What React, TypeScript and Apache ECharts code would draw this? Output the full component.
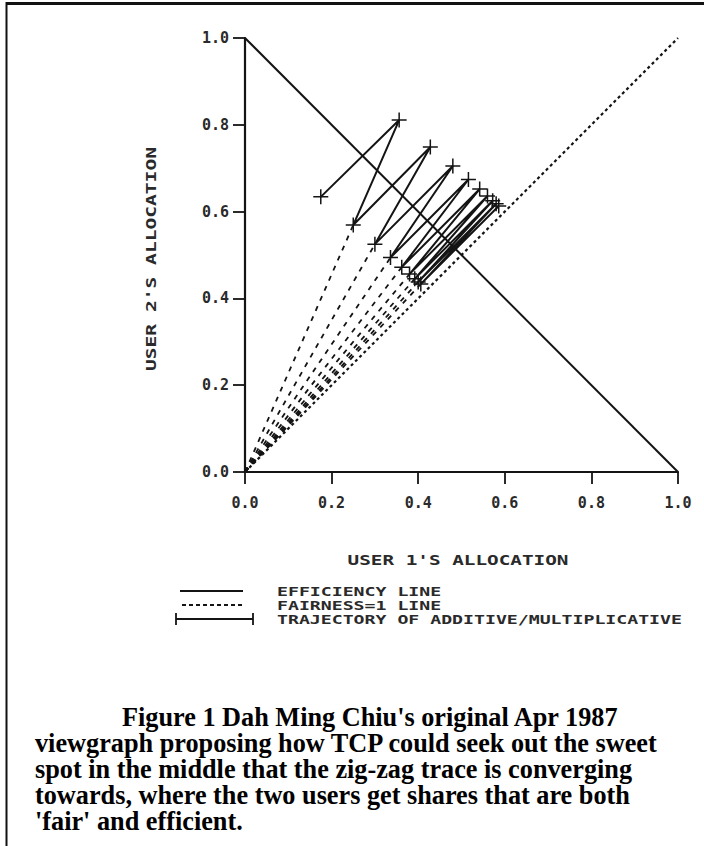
import React, { useEffect, useRef } from 'react';
import * as echarts from 'echarts';

// ---- data ----
const axisTicks = [0, 0.2, 0.4, 0.6, 0.8, 1.0];
const efficiencyX = [0, 1];
const efficiencyY = [1, 0];
const fairnessX = [0, 1];
const fairnessY = [0, 1];
// zig-zag trajectory (start, then alternating increase / decrease points)
const trajX = [0.175, 0.356, 0.250, 0.428, 0.300, 0.480, 0.336, 0.516, 0.362, 0.542, 0.380, 0.560, 0.392, 0.572, 0.400, 0.580, 0.406, 0.586];
const trajY = [0.634, 0.811, 0.569, 0.749, 0.525, 0.705, 0.494, 0.674, 0.472, 0.652, 0.456, 0.636, 0.445, 0.625, 0.438, 0.618, 0.433, 0.613];
// dashed rays toward origin, ending at each decreased point
const rayEndX = [0.250, 0.300, 0.336, 0.362, 0.380, 0.392, 0.400, 0.406];
const rayEndY = [0.569, 0.525, 0.494, 0.472, 0.456, 0.445, 0.438, 0.433];
const xAxisTitle = "USER 1'S ALLOCATION";
const yAxisTitle = "USER 2'S ALLOCATION";
const legendLabels = ['EFFICIENCY LINE', 'FAIRNESS=1 LINE', 'TRAJECTORY OF ADDITIVE/MULTIPLICATIVE'];
const captionLines = [
  "Figure 1 Dah Ming Chiu's original Apr 1987",
  'viewgraph proposing how TCP could seek out the sweet',
  'spot in the middle that the zig-zag trace is converging',
  'towards, where the two users get shares that are both',
  "'fair' and efficient.",
];

const INK = '#141414';
const TXT = '#2a2a2a';
const MONO = "'DejaVu Sans Mono', monospace";
const SERIF = "'Liberation Serif', 'Times New Roman', serif";
const PLUS = 'path://M9,0h2v9h9v2h-9v9h-2v-9h-9v-2h9z';

export default function App() {
  const ref = useRef<HTMLDivElement>(null);
  useEffect(() => {
    if (!ref.current) return;
    const chart = echarts.init(ref.current, null, { renderer: 'svg' });

    const pair = (xs: number[], ys: number[]) => xs.map((x, i) => [x, ys[i]]);

    const raySeries = rayEndX.map((x, i) => ({
      type: 'line',
      data: [[0, 0], [x, rayEndY[i]]],
      symbol: 'none',
      silent: true,
      lineStyle: { color: INK, width: 1.8, type: [5, 6] },
      z: 2,
    }));

    const legendY = [591, 605, 619];
    const graphic: any[] = [
      // frame lines
      { type: 'line', shape: { x1: 6, y1: 3.5, x2: 704, y2: 3.5 }, style: { stroke: '#111', lineWidth: 3 } },
      { type: 'line', shape: { x1: 6.5, y1: 2, x2: 6.5, y2: 846 }, style: { stroke: '#111', lineWidth: 2 } },
      // axis titles
      {
        type: 'text', x: 458, y: 560, scaleX: 1.38,
        style: { text: xAxisTitle, font: `bold 14px ${MONO}`, fill: TXT, align: 'center', verticalAlign: 'middle' },
      },
      {
        type: 'text', x: 151, y: 259, rotation: Math.PI / 2, scaleX: 1.4,
        style: { text: yAxisTitle, font: `bold 14px ${MONO}`, fill: TXT, align: 'center', verticalAlign: 'middle' },
      },
      // legend samples
      { type: 'line', shape: { x1: 180, y1: legendY[0], x2: 243, y2: legendY[0] }, style: { stroke: INK, lineWidth: 1.8 } },
      { type: 'line', shape: { x1: 182, y1: legendY[1], x2: 243, y2: legendY[1] }, style: { stroke: INK, lineWidth: 1.8, lineDash: [4, 3] } },
      { type: 'line', shape: { x1: 176, y1: legendY[2], x2: 253, y2: legendY[2] }, style: { stroke: INK, lineWidth: 1.8 } },
      { type: 'line', shape: { x1: 176, y1: legendY[2] - 6, x2: 176, y2: legendY[2] + 6 }, style: { stroke: INK, lineWidth: 1.8 } },
      { type: 'line', shape: { x1: 253, y1: legendY[2] - 6, x2: 253, y2: legendY[2] + 6 }, style: { stroke: INK, lineWidth: 1.8 } },
      ...legendLabels.map((t, i) => ({
        type: 'text', x: 277, y: legendY[i], scaleX: 1.4,
        style: { text: t, font: `bold 13px ${MONO}`, fill: TXT, align: 'left', verticalAlign: 'middle' },
      })),
      // caption
      ...captionLines.map((t, i) => ({
        type: 'text', x: i === 0 ? 122 : 35, y: 717 + i * 26, scaleX: 1.01, scaleY: 1.08,
        style: { text: t, font: `bold 26px ${SERIF}`, fill: '#000', align: 'left', verticalAlign: 'middle' },
      })),
    ];

    chart.setOption({
      animation: false,
      backgroundColor: '#ffffff',
      grid: { left: 245, right: 26, top: 38, bottom: 374, containLabel: false },
      xAxis: {
        type: 'value', min: axisTicks[0], max: axisTicks[axisTicks.length - 1], interval: 0.2,
        axisLine: { show: true, onZero: false, lineStyle: { color: INK, width: 2.2 } },
        axisTick: { show: true, inside: false, length: 12, lineStyle: { color: INK, width: 1.8 } },
        axisLabel: { margin: 23, color: TXT, fontFamily: MONO, fontWeight: 'bold', fontSize: 15, formatter: (v: number) => v.toFixed(1) },
        splitLine: { show: false },
      },
      yAxis: {
        type: 'value', min: axisTicks[0], max: axisTicks[axisTicks.length - 1], interval: 0.2,
        axisLine: { show: true, onZero: false, lineStyle: { color: INK, width: 2.2 } },
        axisTick: { show: true, inside: false, length: 12, lineStyle: { color: INK, width: 1.8 } },
        axisLabel: { margin: 16, color: TXT, fontFamily: MONO, fontWeight: 'bold', fontSize: 15, formatter: (v: number) => v.toFixed(1) },
        splitLine: { show: false },
      },
      series: [
        {
          name: 'EFFICIENCY LINE', type: 'line', data: pair(efficiencyX, efficiencyY), symbol: 'none',
          lineStyle: { color: INK, width: 2 }, z: 3,
        },
        {
          name: 'FAIRNESS=1 LINE', type: 'line', data: pair(fairnessX, fairnessY), symbol: 'none',
          lineStyle: { color: INK, width: 2.2, type: [3, 3] }, z: 3,
        },
        ...raySeries,
        {
          name: 'TRAJECTORY', type: 'line', data: pair(trajX, trajY), symbol: PLUS, symbolSize: 15,
          showAllSymbol: true,
          itemStyle: { color: INK }, lineStyle: { color: INK, width: 2 }, z: 4,
        },
      ],
      graphic,
    });
    return () => chart.dispose();
  }, []);
  return (
    <div
      ref={ref}
      style={{ position: 'absolute', left: 0, top: 0, width: 704, height: 846, background: '#fff' }}
    />
  );
}
